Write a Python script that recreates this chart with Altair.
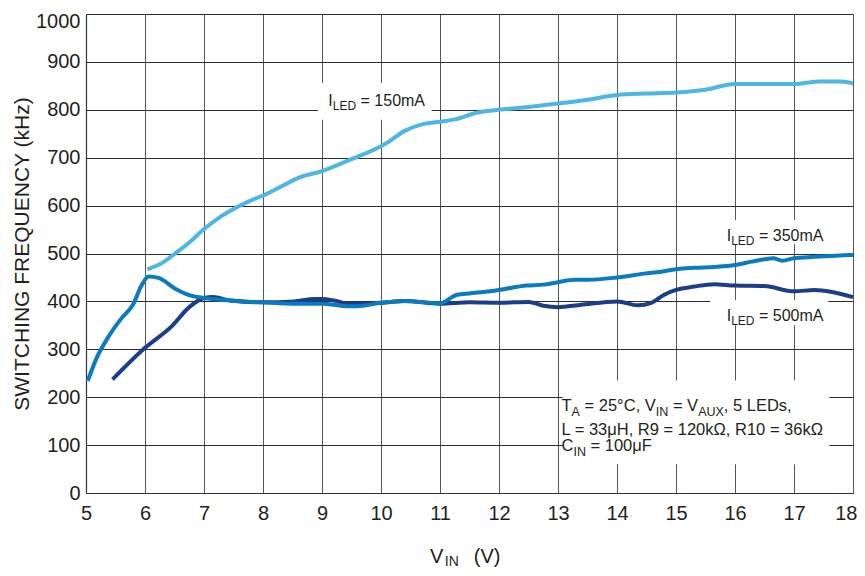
import altair as alt
import pandas as pd

# ---------------- data ----------------
x150 = [6.04, 6.3, 6.5, 6.75, 7.0, 7.27, 7.5, 7.78, 8.0, 8.28, 8.62, 9.0, 9.5, 10.0, 10.1,
        10.4, 10.71, 11.0, 11.25, 11.62, 12.0, 12.5, 13.0, 13.5, 14.0, 14.5, 15.0, 15.5,
        16.0, 16.5, 17.0, 17.44, 17.8, 18.0]
y150 = [467, 481, 499, 523, 551, 576, 593, 610, 621, 638, 659, 672, 697, 724, 731,
        756, 770, 775, 780, 794, 800, 806, 813, 821, 831, 834, 836, 842,
        854, 854, 854, 859, 859, 855]

x350 = [5.03, 5.17, 5.39, 5.59, 5.8, 5.94, 6.06, 6.23, 6.52, 6.75, 7.0, 7.44, 8.0, 8.53,
        9.0, 9.45, 9.6, 10.0, 10.4, 11.0, 11.29, 11.52, 12.0, 12.47, 12.75, 13.0, 13.28,
        13.5, 14.0, 14.46, 14.75, 15.0, 15.31, 15.65, 16.0, 16.28, 16.5, 16.65, 16.8,
        17.0, 17.35, 17.63, 18.0]
y350 = [234, 279, 328, 363, 394, 433, 452, 449, 426, 413, 407, 402, 398, 395,
        395, 390, 390, 397, 401, 396, 414, 417, 424, 433, 435, 440, 445,
        445, 450, 458, 462, 467, 470, 472, 476, 483, 488, 490, 485,
        490, 493, 495, 497]

x500 = [5.45, 6.0, 6.46, 6.75, 7.0, 7.15, 7.44, 8.0, 8.53, 8.87, 9.0, 9.2, 9.45, 10.0,
        10.4, 11.0, 11.5, 12.0, 12.5, 12.75, 13.0, 13.39, 14.0, 14.35, 14.58, 14.8,
        15.0, 15.31, 15.65, 16.0, 16.5, 17.0, 17.35, 18.0]
y500 = [237, 303, 349, 388, 407, 409, 402, 398, 400, 405, 405, 402, 395, 397,
        401, 395, 398, 397, 399, 391, 388, 393, 400, 392, 397, 414,
        424, 431, 436, 433, 432, 421, 424, 409]

series_names = ["500mA", "350mA", "150mA"]
series_colors = ["#1b3d8a", "#0a7bc1", "#4eb6e5"]

x_ticks = list(range(5, 19))
y_ticks = list(range(0, 1001, 100))

# ---------------- layout constants ----------------
W, H = 767, 479
XMIN, XMAX, YMIN, YMAX = 5, 18, 0, 1000
PX_X = W / (XMAX - XMIN)
PX_Y = H / (YMAX - YMIN)
FONT = "Liberation Sans, Arial, Helvetica, sans-serif"
TXT = "#231f20"

ARIAL = {' ': 278, '=': 584, ',': 278, '.': 278, '°': 400, 'μ': 576, 'Ω': 768,
         '(': 333, ')': 333, 'A': 667, 'C': 722, 'D': 722, 'E': 667, 'F': 611,
         'H': 722, 'I': 278, 'L': 556, 'N': 722, 'R': 722, 'T': 611, 'U': 722,
         'V': 667, 'X': 667, 'a': 556, 'k': 500, 'm': 833, 's': 500, 'z': 500}
for d in "0123456789":
    ARIAL[d] = 556


def width(s, size):
    return sum(ARIAL.get(c, 556) for c in s) / 1000 * size


def layout(x0, y0, segs, size, sub_size, sub_dy, extra=None):
    """segs: list of (text, is_sub). returns rows with data coordinates."""
    rows = []
    cur = 0.0
    for i, (t, sub) in enumerate(segs):
        fs = sub_size if sub else size
        if extra and i in extra:
            cur += extra[i]
        lead = len(t) - len(t.lstrip(' '))
        start = cur + width(' ' * lead, fs)
        rows.append({"x": x0 + start / PX_X,
                     "y": y0 - (sub_dy if sub else 0) / PX_Y,
                     "text": t.strip(' '), "size": fs})
        cur += width(t, fs)
    return rows


rows = []
led = [("I", False), ("LED", True)]
rows += layout(9.107, 818.4, led + [(" = 150mA", False)], 16, 12, 5.5)
rows += layout(15.86, 537.0, led + [(" = 350mA", False)], 16, 12, 5.5)
rows += layout(15.86, 370.0, led + [(" = 500mA", False)], 16, 12, 5.5)
rows += layout(13.06, 181.6, [("T", False), ("A", True), (" = 25°C, V", False), ("IN", True),
                              (" = V", False), ("AUX", True), (", 5 LEDs,", False)],
               16.5, 12.5, 5.5)
rows += layout(13.06, 132.2, [("L = 33μH, R9 = 120kΩ, R10 = 36kΩ", False)], 16.5, 12.5, 5.5)
rows += layout(13.06, 98.0, [("C", False), ("IN", True), (" = 100μF", False)], 16.5, 12.5, 5.5)
rows += layout(10.83, -133.0, [("V", False), ("IN", True), ("(V)", False)], 20, 14, 5,
               extra={1: 1.5, 2: 15})
text_df = pd.DataFrame(rows)

# white label backgrounds (data coordinates)
box_df = pd.DataFrame({
    "x": [8.93, 15.71, 15.58, 13.08],
    "x2": [10.86, 17.69, 17.58, 17.6],
    "y": [779, 520, 350, 60],
    "y2": [856, 570, 403, 235],
})

line_df = pd.concat([
    pd.DataFrame({"x": x500, "y": y500, "s": "500mA", "o": range(len(x500))}),
    pd.DataFrame({"x": x350, "y": y350, "s": "350mA", "o": range(len(x350))}),
    pd.DataFrame({"x": x150, "y": y150, "s": "150mA", "o": range(len(x150))}),
])

xscale = alt.Scale(domain=[XMIN, XMAX], nice=False, zero=False)
yscale = alt.Scale(domain=[YMIN, YMAX], nice=False, zero=False)

xaxis = alt.Axis(values=x_ticks, format="d", title=None, grid=True, gridColor="#555555",
                 gridWidth=1, tickSize=0, labelFontSize=20, labelFont=FONT, labelColor=TXT,
                 labelPadding=10, domainColor="#333333", domainWidth=1.2, labelFlush=False,
                 labelAlign=alt.condition("datum.value == 18", alt.value("right"),
                                          alt.value("center")),
                 labelOffset=alt.condition("datum.value == 18", alt.value(4), alt.value(0)))
yaxis = alt.Axis(values=y_ticks, format="d", title="SWITCHING FREQUENCY (kHz)", grid=True,
                 gridColor="#2b2b2b", gridWidth=1, tickSize=0, labelFontSize=20,
                 labelFont=FONT, labelColor=TXT, labelPadding=6, domainColor="#333333",
                 domainWidth=1.2, titleFont=FONT, titleFontSize=21, titleFontWeight="normal",
                 titleColor=TXT, titleX=-64, titleY=H / 2, titleAngle=-90,
                 titleBaseline="middle", titleAlign="center", labelFlush=False,
                 labelOffset=alt.condition("datum.value == 1000", alt.value(7), alt.value(0)))

boxes = alt.Chart(box_df).mark_rect(color="white").encode(
    x=alt.X("x:Q", scale=xscale, axis=xaxis),
    x2="x2:Q",
    y=alt.Y("y:Q", scale=yscale, axis=yaxis),
    y2="y2:Q",
)

lines = alt.Chart(line_df).mark_line(strokeWidth=4, interpolate="monotone").encode(
    x=alt.X("x:Q", scale=xscale),
    y=alt.Y("y:Q", scale=yscale),
    color=alt.Color("s:N", scale=alt.Scale(domain=series_names, range=series_colors),
                    legend=None),
    detail="s:N",
    order="o:Q",
)

texts = alt.Chart(text_df).mark_text(align="left", baseline="middle", font=FONT,
                                     color=TXT).encode(
    x=alt.X("x:Q", scale=xscale),
    y=alt.Y("y:Q", scale=yscale),
    text="text:N",
    size=alt.Size("size:Q", scale=None),
)

chart = alt.layer(boxes, lines, texts).properties(
    width=W, height=H,
    autosize=alt.AutoSizeParams(type="none"),
    padding={"left": 78, "top": 6, "right": 4, "bottom": 78},
).configure_view(stroke="#333333", strokeWidth=1.2).configure(background="white")

chart.save("out.html", embed_options={"renderer": "svg", "actions": False})
